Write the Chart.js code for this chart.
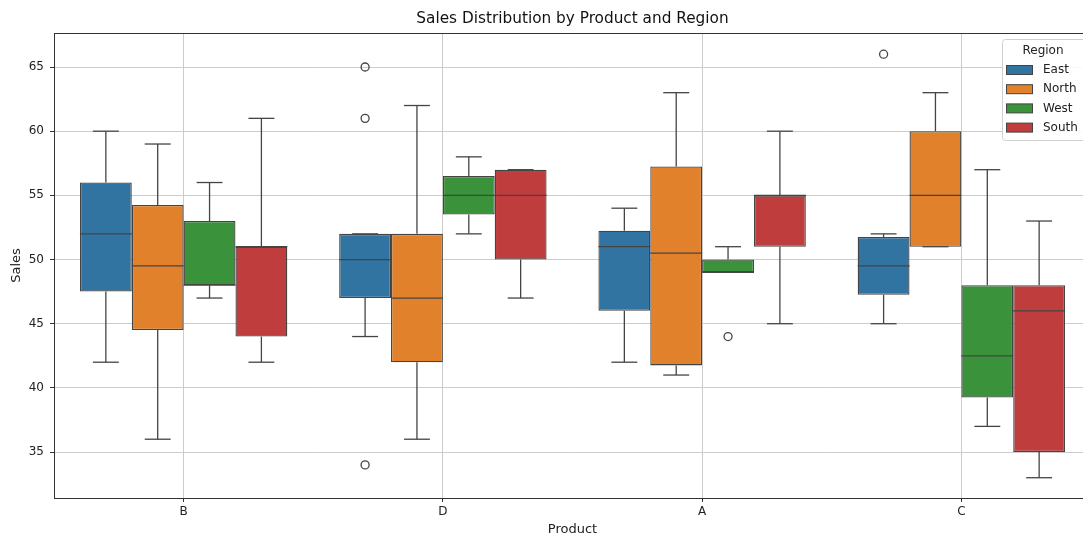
<!DOCTYPE html>
<html>
<head>
<meta charset="utf-8">
<script src="https://cdn.jsdelivr.net/npm/chart.js@4.4.1/dist/chart.umd.min.js"></script>
<style>
  html, body { margin: 0; padding: 0; background: #fff; overflow: hidden; }
  #wrap { width: 1092px; height: 537px; }
</style>
</head>
<body>
<div id="wrap"><canvas id="chart"></canvas></div>
<script>
const chartTitle = 'Sales Distribution by Product and Region';
const products = ['B', 'D', 'A', 'C'];
const regions = ['East', 'North', 'West', 'South'];
const regionColors = ['#3274a1', '#e1812c', '#3a923a', '#c03d3e'];
const yTicks = [35, 40, 45, 50, 55, 60, 65];

// [lower whisker, Q1, median, Q3, upper whisker] per product (B, D, A, C)
const eastStats  = [[42, 47.5, 52, 56, 60], [44, 47, 50, 52, 52], [42, 46, 51, 52.25, 54], [45, 47.25, 49.5, 51.75, 52]];
const northStats = [[36, 44.5, 49.5, 54.25, 59], [36, 42, 47, 52, 62], [41, 41.75, 50.5, 57.25, 63], [51, 51, 55, 60, 63]];
const westStats  = [[47, 48, 48, 53, 56], [52, 53.5, 55, 56.5, 58], [49, 49, 49, 50, 51], [37, 39.25, 42.5, 48, 57]];
const southStats = [[42, 44, 51, 51, 61], [47, 50, 55, 57, 57], [45, 51, 55, 55, 60], [33, 35, 46, 48, 53]];

const eastOutliers  = [[], [65, 61, 34], [], [66]];
const northOutliers = [[], [], [], []];
const westOutliers  = [[], [], [44], []];
const southOutliers = [[], [], [], []];

const allStats = [eastStats, northStats, westStats, southStats];
const allOutliers = [eastOutliers, northOutliers, westOutliers, southOutliers];

const lineColor = '#444444';
Chart.defaults.font.family = "'DejaVu Sans', sans-serif";
Chart.defaults.color = '#222';

const boxParts = {
  id: 'boxParts',
  afterDatasetsDraw(chart) {
    const ctx = chart.ctx;
    const ys = chart.scales.y;
    ctx.save();
    ctx.strokeStyle = lineColor;
    ctx.lineWidth = 1.3;
    const seg = (x1, y1, x2, y2) => {
      ctx.beginPath(); ctx.moveTo(x1, y1); ctx.lineTo(x2, y2); ctx.stroke();
    };
    chart.data.datasets.forEach((ds, i) => {
      const meta = chart.getDatasetMeta(i);
      meta.data.forEach((bar, j) => {
        const [lo, q1, med, q3, hi] = ds.stats[j];
        const half = bar.width / 2;
        const cap = bar.width / 4;
        const x = bar.x;
        seg(x, ys.getPixelForValue(q3), x, ys.getPixelForValue(hi));
        seg(x, ys.getPixelForValue(q1), x, ys.getPixelForValue(lo));
        seg(x - cap, ys.getPixelForValue(hi), x + cap, ys.getPixelForValue(hi));
        seg(x - cap, ys.getPixelForValue(lo), x + cap, ys.getPixelForValue(lo));
        seg(x - half, ys.getPixelForValue(med), x + half, ys.getPixelForValue(med));
        ds.outliers[j].forEach(v => {
          ctx.beginPath();
          ctx.arc(x, ys.getPixelForValue(v), 4, 0, Math.PI * 2);
          ctx.stroke();
        });
      });
    });
    ctx.restore();
  },
  afterDraw(chart) {
    const ctx = chart.ctx;
    const a = chart.chartArea;
    ctx.save();
    // frame
    ctx.strokeStyle = '#333';
    ctx.lineWidth = 1;
    ctx.strokeRect(a.left + 0.5, a.top + 0.5, a.right - a.left, a.bottom - a.top);
    // title, centred on the axes like matplotlib
    ctx.fillStyle = '#111';
    ctx.font = "15.3px 'DejaVu Sans'";
    ctx.textAlign = 'center';
    ctx.textBaseline = 'middle';
    ctx.fillText(chartTitle, (a.left + a.right) / 2, 19);
    // legend
    const lx = 1002, ly = 39, lw = 100, lh = 101;
    ctx.fillStyle = 'rgba(255,255,255,0.85)';
    ctx.strokeStyle = '#d0d0d0';
    ctx.beginPath();
    ctx.roundRect(lx + 0.5, ly + 0.5, lw, lh, 3);
    ctx.fill(); ctx.stroke();
    ctx.fillStyle = '#222';
    ctx.font = "12px 'DejaVu Sans'";
    ctx.fillText('Region', 1043, 51);
    ctx.textAlign = 'left';
    regions.forEach((r, i) => {
      const ry = 70 + i * 19.2;
      ctx.fillStyle = regionColors[i];
      ctx.fillRect(1006, ry - 4.5, 26, 9);
      ctx.strokeStyle = lineColor;
      ctx.lineWidth = 1;
      ctx.strokeRect(1006.5, ry - 4.5, 26, 9);
      ctx.fillStyle = '#222';
      ctx.fillText(r, 1043, ry);
    });
    ctx.restore();
  }
};

const datasets = regions.map((r, i) => ({
  label: r,
  data: allStats[i].map(s => [s[1], s[3]]),
  stats: allStats[i],
  outliers: allOutliers[i],
  backgroundColor: regionColors[i],
  borderColor: lineColor,
  borderWidth: 1.3,
  borderSkipped: false,
  categoryPercentage: 0.8,
  barPercentage: 1.0
}));

new Chart(document.getElementById('chart'), {
  type: 'bar',
  data: { labels: products, datasets: datasets },
  plugins: [boxParts],
  options: {
    responsive: true,
    maintainAspectRatio: false,
    animation: false,
    layout: { padding: { left: 0, right: 1, top: 33, bottom: 0 } },
    plugins: {
      legend: { display: false },
      tooltip: { enabled: false },
      title: { display: false }
    },
    scales: {
      x: {
        grid: { offset: false, color: '#cccccc', tickLength: 4, tickColor: '#333' },
        border: { display: false },
        ticks: { font: { size: 12 }, padding: 3, color: '#222' },
        title: { display: true, text: 'Product', font: { size: 13 }, padding: { top: 0, bottom: 0 }, color: '#222' },
        afterFit: s => { s.height = 39; }
      },
      y: {
        min: 31.42,
        max: 67.65,
        grid: { color: '#cccccc', tickLength: 4, tickColor: '#333' },
        border: { display: false },
        ticks: { font: { size: 12 }, padding: 6, color: '#222' },
        afterBuildTicks: s => { s.ticks = yTicks.map(v => ({ value: v })); },
        title: { display: true, text: 'Sales', font: { size: 13 }, padding: { top: 9, bottom: 0 }, color: '#222' },
        afterFit: s => { s.width = 54; }
      }
    }
  }
});
</script>
</body>
</html>
